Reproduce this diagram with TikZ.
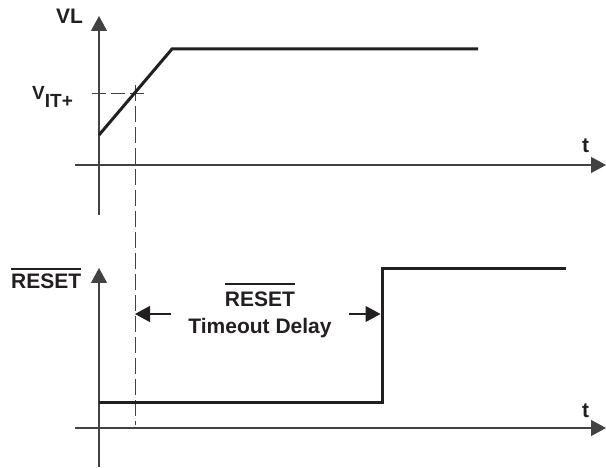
\documentclass[tikz,border=0pt]{standalone}
\usepackage{fontspec}
\setmainfont{Liberation Sans}
\usetikzlibrary{arrows.meta}
\definecolor{inkdark}{RGB}{35,31,32}
\newcommand{\barred}[2][3pt]{\vbox{\hrule height 2.2pt\kern #1\hbox{#2}}}

\begin{document}
\begin{tikzpicture}[x=1pt, y=-1pt,
  axisline/.style={line width=1.2pt, draw=inkdark!85, -{Triangle[length=15pt,width=16pt]}},
  signal/.style={line width=3pt, draw=inkdark, line join=miter},
  guide/.style={line width=1pt, draw=inkdark!85, dash pattern=on 14pt off 5pt},
  delay/.style={line width=1.2pt, draw=inkdark, -{Triangle[length=15pt,width=16pt]}},
  lbl/.style={font=\fontsize{21}{24}\selectfont\bfseries, text=inkdark, inner sep=0pt}]
\useasboundingbox (0,0) rectangle (606,468);
% top axes
\coordinate (vlbot) at (99,215);
\coordinate (vltop) at (99,16);
\coordinate (t1left) at (75,165);
\coordinate (t1right) at (606,165);
\draw[axisline] (vlbot) -- (vltop);
\draw[axisline] (t1left) -- (t1right);
\node[lbl, anchor=base west] (vl) at (56,24) {VL};
\node[lbl, anchor=base west] (t1) at (582,153) {t};
% threshold guides
\coordinate (vitleft) at (92,94);
\coordinate (vitright) at (145,94);
\coordinate (cross) at (135,85);
\coordinate (crossbot) at (135,425);
\draw[guide] (vitleft) -- (vitright);
\draw[guide, dash pattern=on 16pt off 5pt] (cross) -- (crossbot);
\node[lbl, anchor=base west, font=\fontsize{19}{22}\selectfont\bfseries] (vit) at (32,100) {V\raisebox{-8pt}{IT+}};
% supply ramp
\coordinate (ramp0) at (99,135);
\coordinate (ramp1) at (172,49);
\coordinate (ramp2) at (478,49);
\draw[signal] (ramp0) -- (ramp1) -- (ramp2);
% bottom axes
\coordinate (rsbot) at (99,467);
\coordinate (rstop) at (99,268);
\coordinate (t2left) at (75,428);
\coordinate (t2right) at (606,428);
\draw[axisline] (rsbot) -- (rstop);
\draw[axisline] (t2left) -- (t2right);
\node[lbl, anchor=base west] (rs) at (11,288) {\barred{RESET}};
\node[lbl, anchor=base west] (t2) at (582,417) {t};
% reset output
\coordinate (low0) at (99,402);
\coordinate (low1) at (382,402);
\coordinate (high0) at (382,269);
\coordinate (high1) at (566,269);
\draw[signal] (low0) -- (low1) -- (high0) -- (high1);
% timeout delay
\coordinate (dlstart) at (171,314);
\coordinate (dlend) at (135,314);
\coordinate (drstart) at (349,314);
\coordinate (drend) at (380.5,314);
\draw[delay] (dlstart) -- (dlend);
\draw[delay] (drstart) -- (drend);
\node[lbl, anchor=base] (dlyname) at (260,306) {\barred[6pt]{RESET}};
\node[lbl, anchor=base] (dlytext) at (260,334) {Timeout Delay};
\end{tikzpicture}
\end{document}
